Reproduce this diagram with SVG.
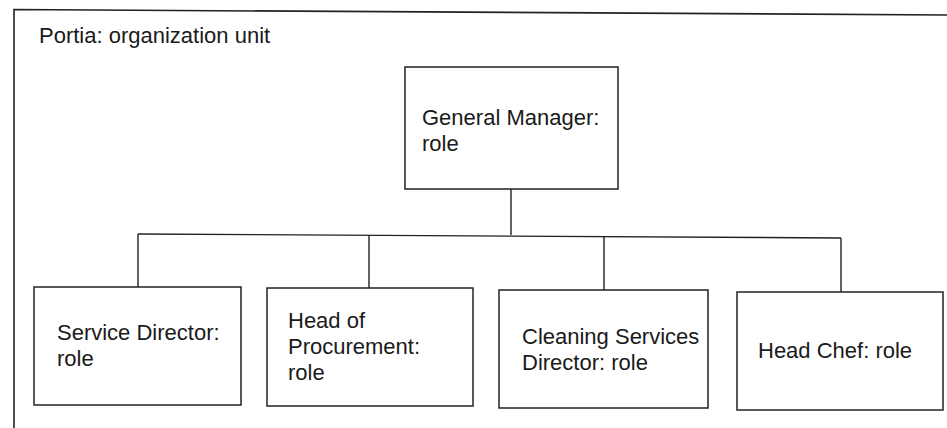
<svg xmlns="http://www.w3.org/2000/svg" width="947" height="428" viewBox="0 0 947 428">
<style>
  .frame { fill: none; stroke: #222; stroke-width: 1.6; }
  .box { fill: #fff; stroke: #222; stroke-width: 1.5; }
  .conn { fill: none; stroke: #222; stroke-width: 1.4; }
  text { font-family: "Liberation Sans", Arial, sans-serif; font-size: 22px; fill: #1a1a1a; }
</style>
<rect width="947" height="428" fill="#fff"/>
<g id="unit">
  <path class="frame" d="M14,430 L14,9.5 L948,15"/>
  <text x="39" y="43">Portia: organization unit</text>
</g>
<g id="connectors">
  <path class="conn" d="M511,189 L511,235"/>
  <path class="conn" d="M138,234 L841,238"/>
  <path class="conn" d="M138,234 L138,287"/>
  <path class="conn" d="M369,235 L369,288"/>
  <path class="conn" d="M604,236 L604,290"/>
  <path class="conn" d="M841,238 L841,292"/>
</g>
<g id="general-manager">
  <rect class="box" x="405" y="67" width="213" height="122"/>
  <text x="422" y="125">General Manager:</text>
  <text x="422" y="151">role</text>
</g>
<g id="service-director">
  <rect class="box" x="34" y="287" width="207" height="118"/>
  <text x="57" y="340">Service Director:</text>
  <text x="57" y="366">role</text>
</g>
<g id="head-of-procurement">
  <rect class="box" x="267" y="288" width="206" height="118"/>
  <text x="288" y="328">Head of</text>
  <text x="288" y="354">Procurement:</text>
  <text x="288" y="380">role</text>
</g>
<g id="cleaning-services-director">
  <rect class="box" x="499" y="290" width="209" height="118"/>
  <text x="522" y="344">Cleaning Services</text>
  <text x="522" y="370">Director: role</text>
</g>
<g id="head-chef">
  <rect class="box" x="737" y="292" width="206" height="118"/>
  <text x="758" y="358">Head Chef: role</text>
</g>
</svg>
